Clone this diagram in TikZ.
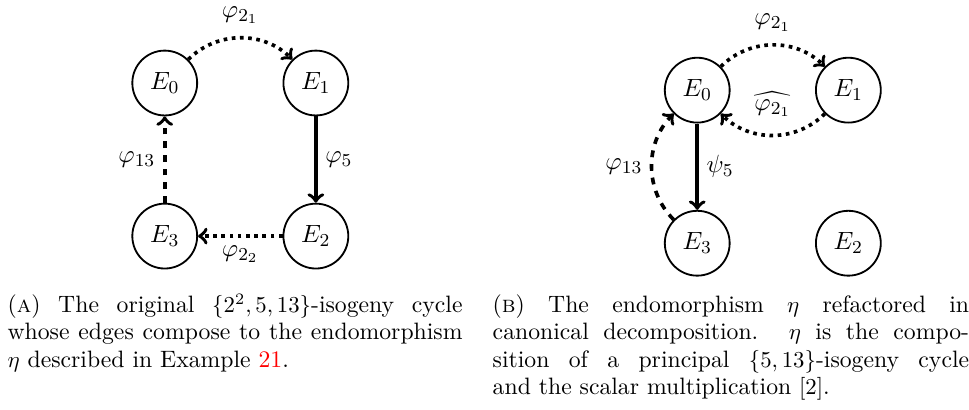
\documentclass[tikz,border=0pt]{standalone}
\usepackage{amssymb}
\usetikzlibrary{positioning}
\begin{document}
\begin{tikzpicture}[font=\fontsize{10.95}{13.6}\selectfont]

	\tikzstyle{ecurve} = [circle, draw, thick, minimum size=1cm, inner sep=0pt, on grid]
	\tikzstyle{isog} = [ultra thick,->]
	\tikzstyle{capt} = [inner sep=0pt, align=justify, anchor=base west, font=\fontsize{10.4}{12}\selectfont]

	\useasboundingbox (0,0) rectangle (14.94,6.31);

	% (a) the original cycle
	\node[ecurve]                    (a0) at (2.54,5.03) {$E_0$};
	\node[ecurve, right=2.33cm of a0] (a1) {$E_1$};
	\node[ecurve, below=2.36cm of a1] (a2) {$E_2$};
	\node[ecurve, below=2.36cm of a0] (a3) {$E_3$};

	\draw[isog, dotted] (a0) to[out=45, in=135] node[above=2pt] {$\varphi_{2_1}$} (a1);
	\draw[isog]         (a1) --                 node[right]     {$\varphi_5$}     (a2);
	\draw[isog, dotted] (a2) --                 node[below]     {$\varphi_{2_2}$} (a3);
	\draw[isog, dashed] (a3) --                 node[left]      {$\varphi_{13}$}  (a0);

	% (b) canonical decomposition
	\node[ecurve]                    (b0) at (10.75,4.92) {$E_0$};
	\node[ecurve, right=2.33cm of b0] (b1) {$E_1$};
	\node[ecurve, below=2.36cm of b1] (b2) {$E_2$};
	\node[ecurve, below=2.36cm of b0] (b3) {$E_3$};

	\draw[isog, dotted] (b0) to[out=45, in=135]   node[above=2pt] {$\varphi_{2_1}$}           (b1);
	\draw[isog, dotted] (b1) to[out=-135, in=-45] node[above=4pt] {$\widehat{\varphi_{2_1}}$} (b0);
	\draw[isog]         (b0) --                   node[right]     {$\psi_5$}                  (b3);
	\draw[isog, dashed] (b3) to[out=135, in=-135] node[left]      {$\varphi_{13}$}            (b0);

	% captions
	\node[capt, text width=199.6pt] (capa) at (0.11,1.49)
		{(\textsc{a}) The original $\{2^2,5,13\}$-isogeny cycle whose edges compose to the endomorphism $\eta$ described in Example \textcolor{red}{21}.};
	\node[capt, text width=209pt] (capb) at (7.59,1.49)
		{(\textsc{b}) The endomorphism $\eta$ refactored in\linebreak canonical decomposition. $\eta$ is the compo-\linebreak sition of a principal $\{5,13\}$-isogeny cycle\linebreak and the scalar multiplication $[2]$.};

\end{tikzpicture}
\end{document}
